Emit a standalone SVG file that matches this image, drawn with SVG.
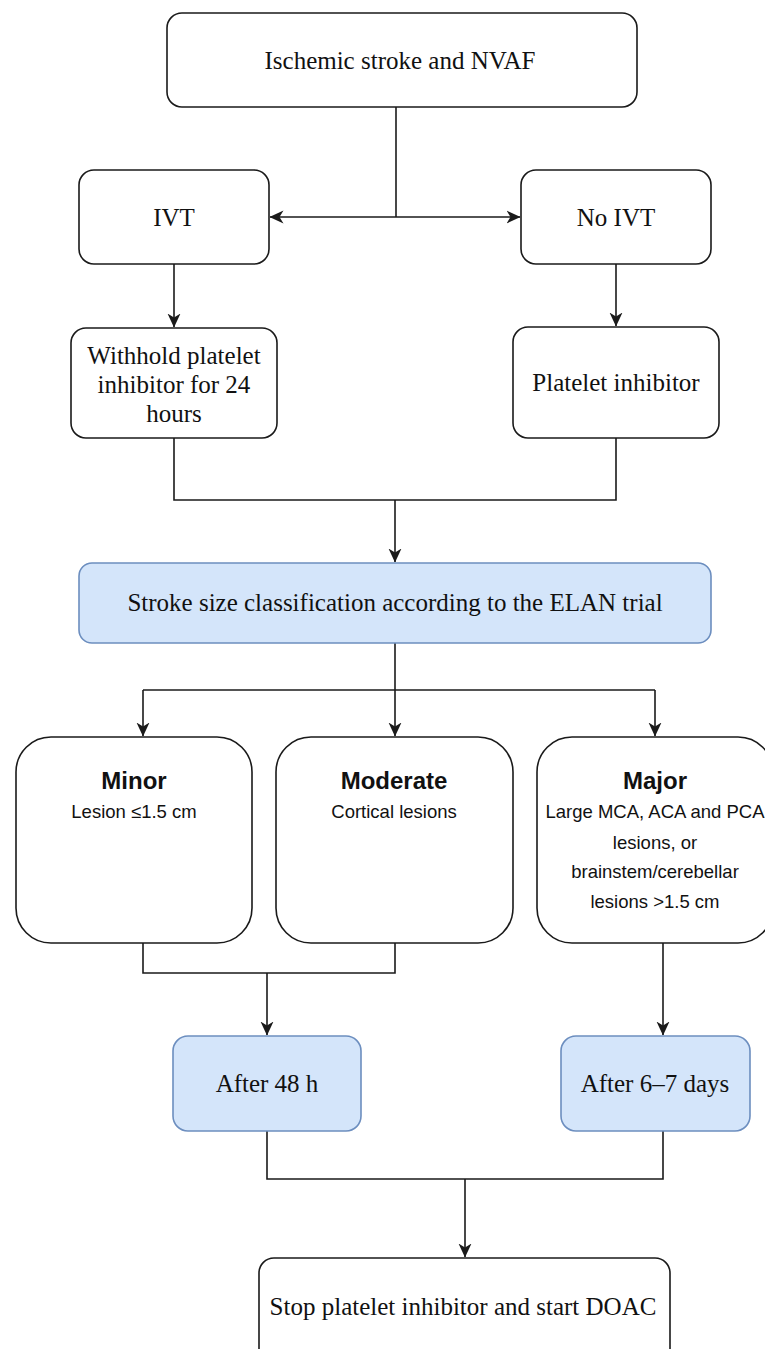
<svg xmlns="http://www.w3.org/2000/svg" width="765" height="1349" viewBox="0 0 765 1349">
<style>
.box{fill:#ffffff;stroke:#1a1a1a;stroke-width:1.6}
.blue{fill:#d4e5fa;stroke:#6c8ebf;stroke-width:1.6}
.serif{font-family:"Liberation Serif","Times New Roman",serif;font-size:25px;fill:#111;text-anchor:middle}
.sans{font-family:"Liberation Sans",Arial,sans-serif;font-size:18.5px;fill:#111;text-anchor:middle}
.title{font-family:"Liberation Sans",Arial,sans-serif;font-size:24px;font-weight:bold;fill:#111;text-anchor:middle}
.conn{fill:none;stroke:#1a1a1a;stroke-width:1.6}
</style>
<defs>
<marker id="arr" viewBox="0 0 14 14" refX="13.5" refY="7" markerWidth="14" markerHeight="14" markerUnits="userSpaceOnUse" orient="auto">
<path d="M0,0.5 L14,7 L0,13.5 L4,7 Z" fill="#1a1a1a"/>
</marker>
</defs>
<rect width="765" height="1349" fill="#ffffff"/>
<g id="connectors">
<line class="conn" x1="396" y1="107" x2="396" y2="217"/>
<line class="conn" x1="396" y1="217" x2="270" y2="217" marker-end="url(#arr)"/>
<line class="conn" x1="396" y1="217" x2="520" y2="217" marker-end="url(#arr)"/>
<line class="conn" x1="174" y1="264" x2="174" y2="327" marker-end="url(#arr)"/>
<line class="conn" x1="616" y1="264" x2="616" y2="326" marker-end="url(#arr)"/>
<polyline class="conn" points="174,438 174,500 616,500 616,438"/>
<line class="conn" x1="395" y1="500" x2="395" y2="562" marker-end="url(#arr)"/>
<line class="conn" x1="395" y1="643" x2="395" y2="736" marker-end="url(#arr)"/>
<line class="conn" x1="143" y1="690" x2="655" y2="690"/>
<line class="conn" x1="143" y1="690" x2="143" y2="736" marker-end="url(#arr)"/>
<line class="conn" x1="655" y1="690" x2="655" y2="736" marker-end="url(#arr)"/>
<polyline class="conn" points="143,943 143,973 395,973 395,943"/>
<line class="conn" x1="267" y1="973" x2="267" y2="1035" marker-end="url(#arr)"/>
<line class="conn" x1="663" y1="943" x2="663" y2="1035" marker-end="url(#arr)"/>
<polyline class="conn" points="267,1131 267,1179 663,1179 663,1131"/>
<line class="conn" x1="465" y1="1179" x2="465" y2="1257" marker-end="url(#arr)"/>
</g>
<g id="n-start">
<rect class="box" x="167" y="13" width="470" height="94" rx="15"/>
<text class="serif" x="400" y="69">Ischemic stroke and NVAF</text>
</g>
<g id="n-ivt">
<rect class="box" x="79" y="170" width="190" height="94" rx="15"/>
<text class="serif" x="174" y="226">IVT</text>
</g>
<g id="n-noivt">
<rect class="box" x="521" y="170" width="190" height="94" rx="15"/>
<text class="serif" x="616" y="226">No IVT</text>
</g>
<g id="n-withhold">
<rect class="box" x="71" y="328" width="206" height="110" rx="15"/>
<text class="serif" x="174" y="364">Withhold platelet</text>
<text class="serif" x="174" y="393">inhibitor for 24</text>
<text class="serif" x="174" y="422">hours</text>
</g>
<g id="n-platelet">
<rect class="box" x="513" y="327" width="206" height="111" rx="15"/>
<text class="serif" x="616" y="391">Platelet inhibitor</text>
</g>
<g id="n-classification">
<rect class="blue" x="79" y="563" width="632" height="80" rx="13"/>
<text class="serif" x="395" y="611">Stroke size classification according to the ELAN trial</text>
</g>
<g id="n-minor">
<rect class="box" x="16" y="737" width="236" height="206" rx="35"/>
<text class="title" x="134" y="789">Minor</text>
<text class="sans" x="134" y="818">Lesion ≤1.5 cm</text>
</g>
<g id="n-moderate">
<rect class="box" x="276" y="737" width="237" height="206" rx="35"/>
<text class="title" x="394" y="789">Moderate</text>
<text class="sans" x="394" y="818">Cortical lesions</text>
</g>
<g id="n-major">
<rect class="box" x="537" y="737" width="236" height="206" rx="35"/>
<text class="title" x="655" y="789">Major</text>
<text class="sans" x="655" y="818">Large MCA, ACA and PCA</text>
<text class="sans" x="655" y="849">lesions, or</text>
<text class="sans" x="655" y="878">brainstem/cerebellar</text>
<text class="sans" x="655" y="908">lesions &gt;1.5 cm</text>
</g>
<g id="n-48h">
<rect class="blue" x="173" y="1036" width="188" height="95" rx="15"/>
<text class="serif" x="267" y="1092">After 48 h</text>
</g>
<g id="n-67d">
<rect class="blue" x="561" y="1036" width="189" height="95" rx="15"/>
<text class="serif" x="655" y="1092">After 6–7 days</text>
</g>
<g id="n-doac">
<rect class="box" x="259" y="1258" width="411" height="110" rx="15"/>
<text class="serif" x="463" y="1315">Stop platelet inhibitor and start DOAC</text>
</g>
</svg>
